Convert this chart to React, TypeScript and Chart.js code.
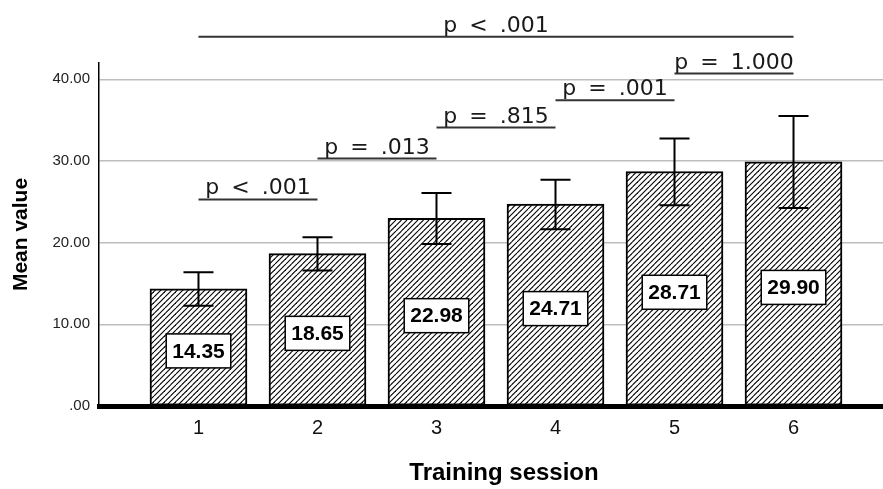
import React, { useEffect, useRef } from "react";
import { Chart, registerables } from "chart.js";

Chart.register(...registerables);

// ---- data ----
const sessions = ["1", "2", "3", "4", "5", "6"];
const sessionPositions = [1, 2, 3, 4, 5, 6];
const meanValues = [14.35, 18.65, 22.98, 24.71, 28.71, 29.9];
const errorLow = [2.07, 2.05, 3.13, 3.06, 4.14, 5.64];
const errorHigh = [2.03, 2.01, 3.1, 2.98, 4.05, 5.6];
const yTickValues = [0, 10, 20, 30, 40];
const sigFrom = [1, 2, 3, 4, 5, 1];
const sigTo = [2, 3, 4, 5, 6, 6];
const sigLabels = ["p < .001", "p = .013", "p = .815", "p = .001", "p = 1.000", "p < .001"];
const sigLevels = [25.3, 30.3, 34.1, 37.45, 40.7, 45.2];
const xTitle = "Training session";
const yTitle = "Mean value";

const SANS = "'Liberation Sans', Arial, sans-serif";
const PFONT = "'DejaVu Sans', Verdana, sans-serif";

function makeHatch(): CanvasPattern | string {
  const size = 11;
  const c = document.createElement("canvas");
  c.width = size;
  c.height = size;
  const g = c.getContext("2d");
  if (!g) return "#fff";
  g.fillStyle = "#fff";
  g.fillRect(0, 0, size, size);
  g.strokeStyle = "#000";
  g.lineWidth = 1.1;
  for (const k of [-11, -5.5, 0, 5.5, 11]) {
    g.beginPath();
    g.moveTo(k, size);
    g.lineTo(k + size, 0);
    g.stroke();
  }
  const p = g.createPattern(c, "repeat");
  return p || "#fff";
}

const overlayPlugin = {
  id: "overlay",
  afterDatasetsDraw(chart: any) {
    const ctx = chart.ctx;
    const xs = chart.scales.x;
    const ys = chart.scales.y;
    ctx.save();
    // error bars
    ctx.strokeStyle = "#000";
    ctx.lineWidth = 2;
    for (let i = 0; i < meanValues.length; i++) {
      const x = xs.getPixelForValue(sessionPositions[i]);
      const yt = ys.getPixelForValue(meanValues[i] + errorHigh[i]);
      const yb = ys.getPixelForValue(meanValues[i] - errorLow[i]);
      ctx.beginPath();
      ctx.moveTo(x, yt);
      ctx.lineTo(x, yb);
      ctx.moveTo(x - 15, yt);
      ctx.lineTo(x + 15, yt);
      ctx.moveTo(x - 15, yb);
      ctx.lineTo(x + 15, yb);
      ctx.stroke();
    }
    // value labels
    ctx.font = `bold 21px ${SANS}`;
    ctx.textAlign = "center";
    ctx.textBaseline = "middle";
    for (let i = 0; i < meanValues.length; i++) {
      const x = xs.getPixelForValue(sessionPositions[i]);
      const y0 = ys.getPixelForValue(0);
      const y1 = ys.getPixelForValue(meanValues[i]);
      const cy = (y0 + y1) / 2 + 3.5;
      const txt = meanValues[i].toFixed(2);
      const w = ctx.measureText(txt).width + 12;
      const h = 34;
      ctx.fillStyle = "#fff";
      ctx.fillRect(x - w / 2, cy - h / 2, w, h);
      ctx.lineWidth = 1.5;
      ctx.strokeStyle = "#000";
      ctx.strokeRect(x - w / 2, cy - h / 2, w, h);
      ctx.fillStyle = "#000";
      ctx.fillText(txt, x, cy + 1);
    }
    ctx.restore();
  },
  afterDraw(chart: any) {
    const ctx = chart.ctx;
    const xs = chart.scales.x;
    const ys = chart.scales.y;
    const area = chart.chartArea;
    ctx.save();
    ctx.font = `22px ${PFONT}`;
    try {
      (ctx as any).wordSpacing = "5px";
    } catch (e) {}
    ctx.textAlign = "center";
    ctx.textBaseline = "alphabetic";
    for (let i = 0; i < sigLabels.length; i++) {
      const x1 = xs.getPixelForValue(sigFrom[i]);
      const x2 = xs.getPixelForValue(sigTo[i]);
      const y = ys.getPixelForValue(sigLevels[i]);
      ctx.strokeStyle = "#333";
      ctx.lineWidth = 2;
      ctx.beginPath();
      ctx.moveTo(x1, y);
      ctx.lineTo(x2, y);
      ctx.stroke();
      ctx.fillStyle = "#1a1a1a";
      ctx.fillText(sigLabels[i], (x1 + x2) / 2, y - 5);
    }
    try {
      (ctx as any).wordSpacing = "0px";
    } catch (e) {}
    // x axis title
    ctx.font = `bold 24px ${SANS}`;
    ctx.fillStyle = "#000";
    ctx.textAlign = "center";
    ctx.textBaseline = "middle";
    ctx.fillText(xTitle, (area.left + area.right) / 2 + 13, chart.height - 16);
    ctx.restore();
  },
};

export default function App() {
  const ref = useRef<HTMLCanvasElement | null>(null);
  useEffect(() => {
    document.body.style.margin = "0";
    const canvas = ref.current;
    if (!canvas) return;
    const hatch = makeHatch();
    const chart = new Chart(canvas, {
      type: "bar",
      data: {
        datasets: [
          {
            data: meanValues.map((v, i) => ({ x: sessionPositions[i], y: v })),
            backgroundColor: hatch as any,
            borderColor: "#000",
            borderWidth: 2,
            borderSkipped: false,
            barThickness: 97,
          },
        ],
      },
      options: {
        responsive: false,
        maintainAspectRatio: false,
        animation: false,
        devicePixelRatio: 1,
        layout: { padding: { top: 63, left: 0, right: 0, bottom: 0 } },
        plugins: { legend: { display: false }, tooltip: { enabled: false } },
        scales: {
          x: {
            type: "linear",
            min: 0.164,
            max: 6.752,
            offset: false,
            afterBuildTicks: (s: any) => {
              s.ticks = sessionPositions.map((v) => ({ value: v }));
            },
            afterFit: (s: any) => {
              s.height = 83;
            },
            grid: { display: false, drawTicks: false },
            border: { display: true, color: "#000", width: 5 },
            ticks: {
              autoSkip: false,
              maxRotation: 0,
              padding: 10,
              color: "#111",
              font: { family: SANS, size: 20 },
              callback: (v: any) => {
                const idx = sessionPositions.indexOf(Number(v));
                return idx >= 0 ? sessions[idx] : "";
              },
            },
            title: { display: false },
          },
          y: {
            type: "linear",
            min: 0,
            max: 42,
            afterBuildTicks: (s: any) => {
              s.ticks = yTickValues.map((v) => ({ value: v }));
            },
            afterFit: (s: any) => {
              s.width = 99;
            },
            grid: {
              drawTicks: false,
              lineWidth: 1.5,
              color: (c: any) => (c.tick && c.tick.value === 0 ? "rgba(0,0,0,0)" : "#bdbdbd"),
            },
            border: { display: true, color: "#000", width: 1.5 },
            ticks: {
              padding: 9,
              color: "#222",
              font: { family: SANS, size: 15 },
              callback: (v: any) => (Number(v) === 0 ? ".00" : Number(v).toFixed(2)),
            },
            title: {
              display: true,
              text: yTitle,
              color: "#000",
              font: { family: SANS, size: 21, weight: "bold" },
              padding: { top: 9, bottom: 0 },
            },
          },
        },
      },
      plugins: [overlayPlugin],
    });
    return () => chart.destroy();
  }, []);
  return (
    <div style={{ position: "fixed", left: 0, top: 0, width: 883, height: 489, background: "#fff" }}>
      <canvas ref={ref} width={883} height={489} style={{ display: "block" }} />
    </div>
  );
}
